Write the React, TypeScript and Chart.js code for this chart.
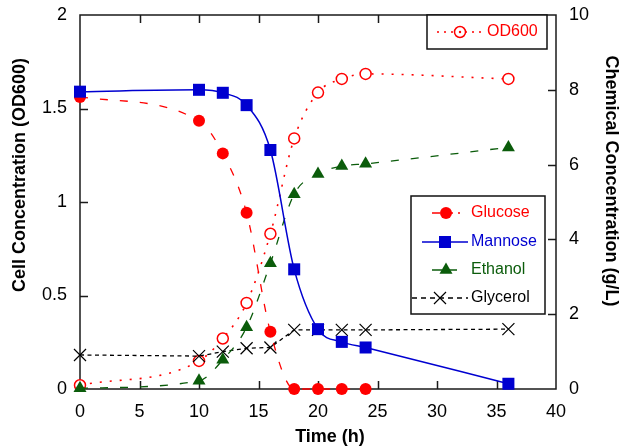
import React, { useEffect, useRef } from 'react';
import { Chart, registerables } from 'chart.js';

Chart.register(...registerables);

// ---- data ----
const timeH = [0, 10, 12, 14, 16, 18, 20, 22, 24, 36];
const od600 = [0.02, 0.15, 0.27, 0.46, 0.83, 1.34, 1.585, 1.658, 1.685, 1.658];
const glucoseTime = [0, 10, 12, 14, 16, 18, 20, 22, 24];
const glucose = [7.81, 7.17, 6.3, 4.71, 1.53, 0, 0, 0, 0];
const mannose = [7.95, 8.0, 7.92, 7.59, 6.39, 3.2, 1.6, 1.26, 1.11, 0.14];
const ethanol = [0.02, 0.22, 0.78, 1.65, 3.36, 5.21, 5.75, 5.96, 6.02, 6.46];
const glycerol = [0.91, 0.88, 1.0, 1.09, 1.11, 1.58, 1.58, 1.58, 1.58, 1.6];

const xTicks = [0, 5, 10, 15, 20, 25, 30, 35, 40];
const leftTicks = [0, 0.5, 1, 1.5, 2];
const rightTicks = [0, 2, 4, 6, 8, 10];

const xTitle = 'Time (h)';
const leftTitle = 'Cell Concentration (OD600)';
const rightTitle = 'Chemical Concentration (g/L)';

const RED = '#ff0000';
const BLUE = '#0000d0';
const GREEN = '#0b5c0b';
const BLACK = '#000000';

const FONT = 'Arial, "Liberation Sans", sans-serif';

const DASH_GLUCOSE = [8, 12];
const DASH_ETHANOL = [8, 12];
const DASH_GLYCEROL = [4, 3.5];
const DASH_OD = [2, 8];

type LegendItem = { label: string; color: string; textColor: string; dash: number[]; style: string; x1: number; x2: number; };

const legendTop: LegendItem[] = [
  { label: 'OD600', color: RED, textColor: RED, dash: [2, 5], style: 'openCircle', x1: 437, x2: 483 },
];
const legendMain: LegendItem[] = [
  { label: 'Glucose', color: RED, textColor: RED, dash: [8, 5], style: 'circle', x1: 432, x2: 460 },
  { label: 'Mannose', color: BLUE, textColor: BLUE, dash: [], style: 'rect', x1: 422, x2: 468 },
  { label: 'Ethanol', color: GREEN, textColor: GREEN, dash: [10, 5], style: 'triangle', x1: 432, x2: 460 },
  { label: 'Glycerol', color: BLACK, textColor: BLACK, dash: [5, 4], style: 'crossRot', x1: 412, x2: 468 },
];

function pts(xs: number[], ys: number[]) {
  return ys.map((y, i) => ({ x: xs[i], y }));
}

function drawMarker(ctx: CanvasRenderingContext2D, style: string, x: number, y: number, color: string) {
  ctx.save();
  ctx.setLineDash([]);
  ctx.fillStyle = color;
  ctx.strokeStyle = color;
  ctx.lineWidth = 1.5;
  ctx.beginPath();
  if (style === 'circle') {
    ctx.arc(x, y, 6, 0, Math.PI * 2);
    ctx.fill();
  } else if (style === 'openCircle') {
    ctx.fillStyle = '#fff';
    ctx.arc(x, y, 5.5, 0, Math.PI * 2);
    ctx.fill();
    ctx.stroke();
    ctx.beginPath();
    ctx.fillStyle = color;
    ctx.arc(x, y, 1.2, 0, Math.PI * 2);
    ctx.fill();
  } else if (style === 'rect') {
    ctx.rect(x - 6, y - 6, 12, 12);
    ctx.fill();
  } else if (style === 'triangle') {
    const r = 7.5;
    ctx.moveTo(x, y - r);
    ctx.lineTo(x + r * 0.866, y + r / 2);
    ctx.lineTo(x - r * 0.866, y + r / 2);
    ctx.closePath();
    ctx.fill();
  } else if (style === 'crossRot') {
    const d = 6;
    ctx.moveTo(x - d, y - d);
    ctx.lineTo(x + d, y + d);
    ctx.moveTo(x + d, y - d);
    ctx.lineTo(x - d, y + d);
    ctx.lineWidth = 1.2;
    ctx.stroke();
  }
  ctx.restore();
}

function drawLegendBox(ctx: CanvasRenderingContext2D, items: LegendItem[], box: { l: number; t: number; r: number; b: number }, rowY: number[], textX: number) {
  ctx.save();
  ctx.fillStyle = '#fff';
  ctx.fillRect(box.l, box.t, box.r - box.l, box.b - box.t);
  ctx.strokeStyle = '#111';
  ctx.lineWidth = 1.5;
  ctx.setLineDash([]);
  ctx.strokeRect(box.l, box.t, box.r - box.l, box.b - box.t);
  items.forEach((it, i) => {
    const y = rowY[i];
    ctx.save();
    ctx.strokeStyle = it.color;
    ctx.lineWidth = it.style === 'rect' ? 1.5 : 1.3;
    ctx.setLineDash(it.dash);
    ctx.beginPath();
    ctx.moveTo(it.x1, y);
    ctx.lineTo(it.x2, y);
    ctx.stroke();
    ctx.restore();
    drawMarker(ctx, it.style, (it.x1 + it.x2) / 2, y, it.color);
    ctx.fillStyle = it.textColor;
    ctx.font = `16px ${FONT}`;
    ctx.textBaseline = 'middle';
    ctx.textAlign = 'left';
    ctx.fillText(it.label, textX, y);
  });
  ctx.restore();
}

const decorPlugin = {
  id: 'decor',
  beforeDatasetsDraw(chart: any) {
    const { ctx, chartArea: a, scales } = chart;
    ctx.save();
    ctx.strokeStyle = '#1a1a1a';
    ctx.lineWidth = 1.5;
    ctx.setLineDash([]);
    ctx.beginPath();
    const tl = 8;
    xTicks.slice(1, -1).forEach((v) => {
      const px = Math.round(scales.x.getPixelForValue(v)) + 0.5;
      ctx.moveTo(px, a.bottom);
      ctx.lineTo(px, a.bottom - tl);
      ctx.moveTo(px, a.top);
      ctx.lineTo(px, a.top + tl);
    });
    leftTicks.slice(1, -1).forEach((v) => {
      const py = Math.round(scales.y.getPixelForValue(v)) + 0.5;
      ctx.moveTo(a.left, py);
      ctx.lineTo(a.left + tl, py);
    });
    rightTicks.slice(1, -1).forEach((v) => {
      const py = Math.round(scales.y2.getPixelForValue(v)) + 0.5;
      ctx.moveTo(a.right, py);
      ctx.lineTo(a.right - tl, py);
    });
    ctx.stroke();
    ctx.strokeRect(a.left, a.top, a.right - a.left, a.bottom - a.top);
    ctx.restore();
  },
  afterDraw(chart: any) {
    const { ctx } = chart;
    drawLegendBox(ctx, legendTop, { l: 427, t: 15, r: 547, b: 49 }, [32], 487);
    drawLegendBox(ctx, legendMain, { l: 411, t: 196, r: 545, b: 314 }, [213, 242, 270, 298], 471);

    ctx.save();
    ctx.fillStyle = '#000';
    ctx.font = `bold 18px ${FONT}`;
    ctx.textAlign = 'center';
    ctx.textBaseline = 'middle';
    ctx.fillText(xTitle, 330, 437);
    ctx.save();
    ctx.translate(20, 175);
    ctx.rotate(-Math.PI / 2);
    ctx.fillText(leftTitle, 0, 0);
    ctx.restore();
    ctx.save();
    ctx.translate(611, 181);
    ctx.rotate(Math.PI / 2);
    ctx.fillText(rightTitle, 0, 0);
    ctx.restore();
    ctx.restore();
  },
};

const noPad = (s: any) => {
  s.paddingTop = 0;
  s.paddingBottom = 0;
  s.paddingLeft = 0;
  s.paddingRight = 0;
};

export default function App() {
  const ref = useRef<HTMLCanvasElement | null>(null);
  useEffect(() => {
    if (!ref.current) return;
    const common = { clip: false as any, tension: 0, borderWidth: 1.3, pointBorderWidth: 1.5 };
    const chart = new Chart(ref.current, {
      type: 'line',
      data: {
        datasets: [
          {
            ...common,
            label: 'Mannose',
            data: pts(timeH, mannose),
            yAxisID: 'y2',
            borderColor: BLUE,
            backgroundColor: BLUE,
            pointStyle: 'rect',
            pointRadius: 8.5,
            pointBorderWidth: 0,
            borderWidth: 1.5,
            cubicInterpolationMode: 'monotone',
          },
          {
            ...common,
            label: 'Glucose',
            data: pts(glucoseTime, glucose),
            yAxisID: 'y2',
            borderColor: RED,
            backgroundColor: RED,
            borderDash: DASH_GLUCOSE,
            pointStyle: 'circle',
            pointRadius: 6,
            pointBorderWidth: 0,
            cubicInterpolationMode: 'monotone',
          },
          {
            ...common,
            label: 'Ethanol',
            data: pts(timeH, ethanol),
            yAxisID: 'y2',
            borderColor: GREEN,
            backgroundColor: GREEN,
            borderDash: DASH_ETHANOL,
            pointStyle: 'triangle',
            pointRadius: 7.5,
            pointBorderWidth: 0,
            cubicInterpolationMode: 'monotone',
          },
          {
            ...common,
            label: 'Glycerol',
            data: pts(timeH, glycerol),
            yAxisID: 'y2',
            borderColor: BLACK,
            backgroundColor: BLACK,
            borderDash: DASH_GLYCEROL,
            pointStyle: 'crossRot',
            pointRadius: 8.5,
            pointBorderWidth: 1.2,
          },
          {
            ...common,
            label: 'OD600',
            data: pts(timeH, od600),
            yAxisID: 'y',
            borderColor: RED,
            backgroundColor: '#ffffff',
            pointBorderColor: RED,
            borderDash: DASH_OD,
            borderWidth: 1.6,
            pointStyle: 'circle',
            pointRadius: 5.5,
            pointBorderWidth: 1.5,
            cubicInterpolationMode: 'monotone',
          },
        ],
      },
      options: {
        animation: false,
        responsive: false,
        maintainAspectRatio: false,
        layout: { padding: { top: 15, left: 0, right: 0, bottom: 0 } },
        plugins: { legend: { display: false }, tooltip: { enabled: false }, title: { display: false } },
        scales: {
          x: {
            type: 'linear',
            min: 0,
            max: 40,
            grid: { display: false, drawTicks: false },
            border: { display: false },
            afterBuildTicks: (s: any) => { s.ticks = xTicks.map((v) => ({ value: v })); },
            afterFit: (s: any) => { s.height = 59; noPad(s); },
            ticks: { color: '#000', padding: 12, font: { size: 18, family: FONT }, maxRotation: 0, autoSkip: false, callback: (v: any) => String(v) },
          },
          y: {
            type: 'linear',
            position: 'left',
            min: 0,
            max: 2,
            grid: { display: false, drawTicks: false },
            border: { display: false },
            afterBuildTicks: (s: any) => { s.ticks = leftTicks.map((v) => ({ value: v })); },
            afterFit: (s: any) => { s.width = 80; noPad(s); },
            ticks: { color: '#000', padding: 13, font: { size: 18, family: FONT }, callback: (v: any) => String(v) },
          },
          y2: {
            type: 'linear',
            position: 'right',
            min: 0,
            max: 10,
            grid: { display: false, drawTicks: false },
            border: { display: false },
            afterBuildTicks: (s: any) => { s.ticks = rightTicks.map((v) => ({ value: v })); },
            afterFit: (s: any) => { s.width = 64; noPad(s); },
            ticks: { color: '#000', padding: 13, font: { size: 18, family: FONT }, callback: (v: any) => String(v) },
          },
        },
      },
      plugins: [decorPlugin],
    } as any);
    return () => chart.destroy();
  }, []);
  return (
    <div style={{ position: 'absolute', left: 0, top: 0, width: 620, height: 448, background: '#fff' }}>
      <canvas ref={ref} width={620} height={448} style={{ display: 'block' }} />
    </div>
  );
}
